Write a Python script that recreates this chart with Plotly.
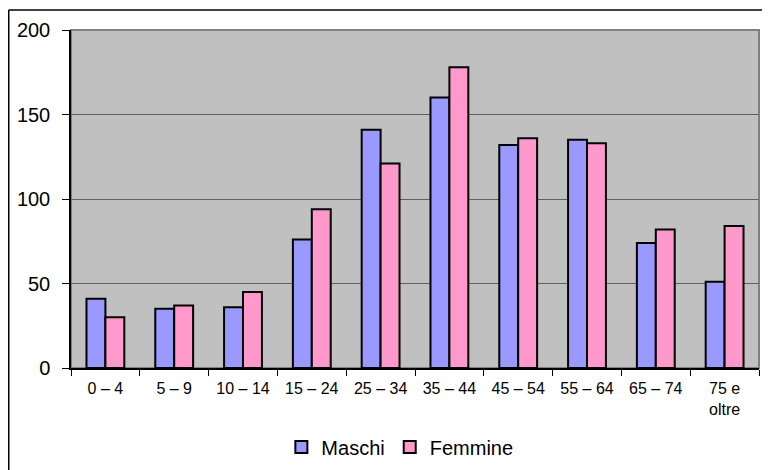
import plotly.graph_objects as go

categories = ["0 – 4", "5 – 9", "10 – 14", "15 – 24", "25 – 34", "35 – 44",
              "45 – 54", "55 – 64", "65 – 74", "75 e<br>oltre"]
maschi = [41, 35, 36, 76, 141, 160, 132, 135, 74, 51]
femmine = [30, 37, 45, 94, 121, 178, 136, 133, 82, 84]

BLUE = "#9999FF"
PINK = "#FF99CC"
FONT = "Liberation Sans, Arial, sans-serif"

fig = go.Figure()
fig.add_trace(go.Bar(x=categories, y=maschi, name="Maschi",
                     marker=dict(color=BLUE, line=dict(color="black", width=2))))
fig.add_trace(go.Bar(x=categories, y=femmine, name="Femmine",
                     marker=dict(color=PINK, line=dict(color="black", width=2))))

# page body has an 8px margin, so the figure is laid out 8px up/left of the page
fig.update_layout(
    width=770, height=470,
    margin=dict(l=63, r=19, t=22, b=110, autoexpand=False),
    paper_bgcolor="white",
    plot_bgcolor="#C0C0C0",
    barmode="group", bargap=0.45, bargroupgap=0,
    font=dict(family=FONT, color="black"),
    legend=dict(orientation="h", x=0.478, xanchor="center",
                yref="container", y=0.066, yanchor="middle",
                font=dict(size=20), itemwidth=30, traceorder="normal"),
    shapes=[
        # outer chart frame (left and top edges visible)
        dict(type="line", xref="paper", yref="paper",
             x0=-0.0905, x1=-0.0905, y0=-0.5, y1=1.059,
             line=dict(color="black", width=1.5), layer="below"),
        dict(type="line", xref="paper", yref="paper",
             x0=-0.0905, x1=1.2, y0=1.059, y1=1.059,
             line=dict(color="black", width=1.5), layer="below"),
        # plot area border
        dict(type="rect", xref="paper", yref="paper", x0=0, x1=1, y0=0, y1=1,
             line=dict(color="#808080", width=2), layer="below"),
    ],
)
fig.update_xaxes(
    automargin=False,
    showline=True, linecolor="black", linewidth=1.5,
    ticks="outside", tickson="boundaries", ticklen=6, tickcolor="black",
    tickfont=dict(size=16), ticklabelstandoff=5, showgrid=False,
)
fig.update_yaxes(
    automargin=False,
    range=[0, 200], dtick=50,
    showline=True, linecolor="black", linewidth=1.5,
    ticks="outside", ticklen=7, tickcolor="black",
    tickfont=dict(size=20), ticklabelstandoff=8,
    showgrid=True, gridcolor="#606060", gridwidth=1.2,
    zeroline=False,
)

fig.write_html("out.html")
